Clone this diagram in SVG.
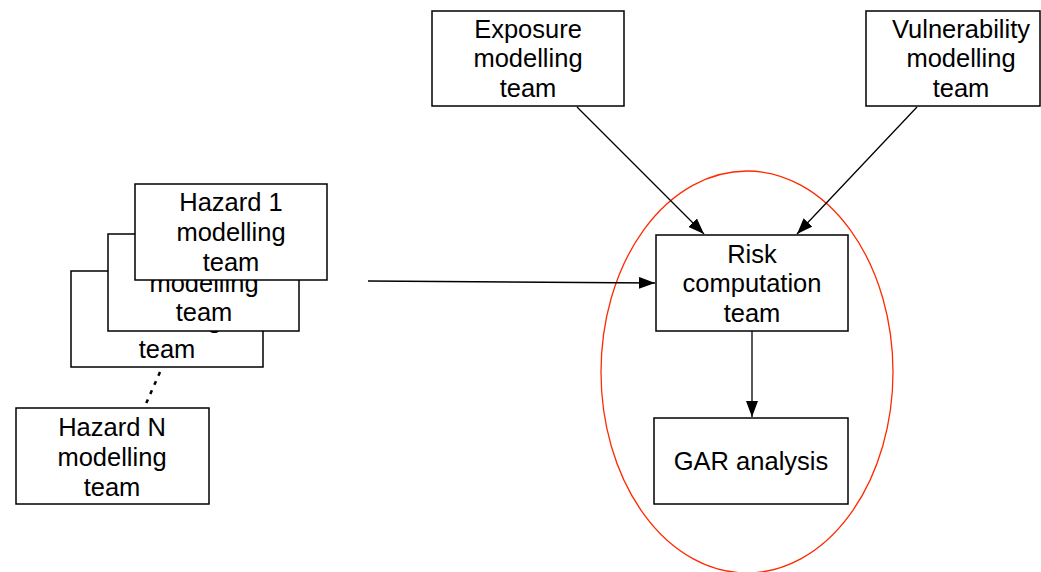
<svg xmlns="http://www.w3.org/2000/svg" width="1041" height="572" viewBox="0 0 1041 572">
<style>
.box{fill:#fff;stroke:#000;stroke-width:1.5}
.t{font-family:"Liberation Sans",Arial,sans-serif;font-size:25.5px;fill:#000;text-anchor:middle}
.c{stroke:#000;stroke-width:1.3;fill:none}
</style>
<defs>
<marker id="ah" viewBox="0 0 16 12" refX="16" refY="6" markerWidth="16" markerHeight="12" markerUnits="userSpaceOnUse" orient="auto">
<path d="M0,0 L16,6 L0,12 z" fill="#000"/>
</marker>
</defs>
<rect width="1041" height="572" fill="#fff"/>
<ellipse id="scope" cx="747" cy="372" rx="146" ry="201" fill="none" stroke="#ff2a00" stroke-width="1.3"/>
<g id="hazard3">
<rect class="box" x="71" y="271" width="192" height="96"/>
<text class="t" x="167" y="328">modelling</text>
<text class="t" x="167" y="358">team</text>
</g>
<g id="hazard2">
<rect class="box" x="108" y="234" width="191" height="97"/>
<text class="t" x="204" y="292">modelling</text>
<text class="t" x="204" y="321">team</text>
</g>
<g id="hazard1">
<rect class="box" x="135" y="184" width="192" height="96"/>
<text class="t" x="231" y="211">Hazard 1</text>
<text class="t" x="231" y="241">modelling</text>
<text class="t" x="231" y="271">team</text>
</g>
<g id="hazardN">
<rect class="box" x="16" y="408" width="193" height="96"/>
<text class="t" x="112" y="436">Hazard N</text>
<text class="t" x="112" y="466">modelling</text>
<text class="t" x="112" y="496">team</text>
</g>
<g id="exposure">
<rect class="box" x="432" y="11" width="192" height="95"/>
<text class="t" x="528" y="38">Exposure</text>
<text class="t" x="528" y="67">modelling</text>
<text class="t" x="528" y="97">team</text>
</g>
<g id="vulnerability">
<rect class="box" x="866" y="11" width="174" height="95"/>
<text class="t" x="961" y="38">Vulnerability</text>
<text class="t" x="961" y="67">modelling</text>
<text class="t" x="961" y="97">team</text>
</g>
<g id="risk">
<rect class="box" x="656" y="235" width="192" height="96"/>
<text class="t" x="752" y="263">Risk</text>
<text class="t" x="752" y="292">computation</text>
<text class="t" x="752" y="322">team</text>
</g>
<g id="gar">
<rect class="box" x="654" y="418" width="194" height="86"/>
<text class="t" x="751" y="470">GAR analysis</text>
</g>
<g id="connectors">
<line class="c" x1="577" y1="107" x2="704" y2="234" marker-end="url(#ah)"/>
<line class="c" x1="917" y1="107" x2="797" y2="234" marker-end="url(#ah)"/>
<line class="c" x1="368" y1="281" x2="655" y2="283" marker-end="url(#ah)"/>
<line class="c" x1="752" y1="331" x2="752" y2="417" marker-end="url(#ah)"/>
<line x1="160" y1="372" x2="145" y2="406" stroke="#000" stroke-width="2.5" stroke-dasharray="4,6"/>
</g>
</svg>
